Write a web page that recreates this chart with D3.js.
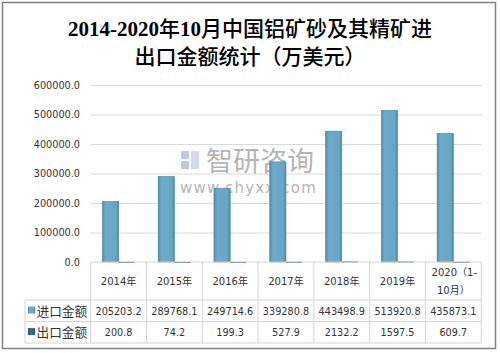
<!DOCTYPE html>
<html>
<head>
<meta charset="utf-8">
<script src="https://cdn.jsdelivr.net/npm/d3@7"></script>
<style>
  body { margin: 0; background: #fff; }
  svg { display: block; }
</style>
</head>
<body>
<svg id="chart" width="500" height="353"></svg>
<script>
// Data
const years = ["2014年", "2015年", "2016年", "2017年", "2018年", "2019年", "2020（1-10月）"];
const importValues = [205203.2, 289768.1, 249714.6, 339280.8, 443498.9, 513920.8, 435873.1];
const exportValues = [200.8, 74.2, 199.3, 527.9, 2132.2, 1597.5, 609.7];
const importLabels = ["205203.2", "289768.1", "249714.6", "339280.8", "443498.9", "513920.8", "435873.1"];
const exportLabels = ["200.8", "74.2", "199.3", "527.9", "2132.2", "1597.5", "609.7"];
const yTicks = [0, 100000, 200000, 300000, 400000, 500000, 600000];
const seriesNames = ["进口金额", "出口金额"];

const svg = d3.select("#chart");
const plotLeft = 90.7, plotRight = 481.2, plotTop = 85, plotBottom = 262;
const rowY = [262, 300, 321.5, 343];
const labelLeft = 25;

const x = d3.scaleBand().domain(years).range([plotLeft, plotRight]);
const y = d3.scaleLinear().domain([0, 600000]).range([plotBottom, plotTop]);

// outer border
svg.append("rect")
    .attr("x", 2.5).attr("y", 2.5)
    .attr("width", 493).attr("height", 346)
    .attr("fill", "none")
    .attr("stroke", "#808080")
    .attr("stroke-width", 1.5);

// title: serif bold digits, lighter CJK
const titleLines = [
    [["2014-2020", 1], ["年", 0], ["10", 1], ["月中国铝矿砂及其精矿进", 0]],
    [["出口金额统计（万美元）", 0]]
];
titleLines.forEach((parts, li) => {
    const t = svg.append("text")
        .attr("x", 250).attr("y", 36 + li * 28)
        .attr("text-anchor", "middle")
        .attr("fill", "#000")
        .style("font-size", "21px");
    parts.forEach(([s, isNum]) => {
        t.append("tspan")
            .style("font-family", isNum ? "'Liberation Serif', serif" : "'Noto Sans CJK SC', sans-serif")
            .style("font-weight", isNum ? "bold" : "500")
            .text(s);
    });
});

// gradients
const defs = svg.append("defs");
const g1 = defs.append("linearGradient").attr("id", "gImp").attr("x1", 0).attr("x2", 1).attr("y1", 0).attr("y2", 0);
g1.append("stop").attr("offset", "0%").attr("stop-color", "#4f8eac");
g1.append("stop").attr("offset", "20%").attr("stop-color", "#6cabc9");
g1.append("stop").attr("offset", "85%").attr("stop-color", "#67a6c4");
g1.append("stop").attr("offset", "100%").attr("stop-color", "#4c86a2");
const g2 = defs.append("linearGradient").attr("id", "gExp").attr("x1", 0).attr("x2", 1).attr("y1", 0).attr("y2", 0);
g2.append("stop").attr("offset", "0%").attr("stop-color", "#2c5a73");
g2.append("stop").attr("offset", "50%").attr("stop-color", "#3d6f8b");
g2.append("stop").attr("offset", "100%").attr("stop-color", "#2c5a73");

// grid lines
svg.append("g")
    .attr("class", "grid")
    .attr("transform", `translate(${plotLeft},0)`)
    .call(d3.axisLeft(y).tickValues(yTicks.slice(1)).tickSize(-(plotRight - plotLeft)).tickFormat(""))
    .call(g => g.select(".domain").remove())
    .call(g => g.selectAll("line").attr("stroke", "#d9d9d9"));

// y labels
svg.append("g")
    .selectAll("text")
    .data(yTicks)
    .join("text")
    .attr("x", 80)
    .attr("y", d => y(d) + 3.5)
    .attr("text-anchor", "end")
    .style("font-family", "'DejaVu Sans', sans-serif")
    .style("font-size", "9.7px")
    .attr("fill", "#333")
    .text(d => d.toFixed(1));

// watermark
const wm = svg.append("g").attr("opacity", 0.55);
wm.append("rect").attr("x", 181).attr("y", 151).attr("width", 8).attr("height", 8).attr("fill", "#8a9cc4");
wm.append("rect").attr("x", 181).attr("y", 161).attr("width", 8).attr("height", 8).attr("fill", "#8a9cc4");
wm.append("rect").attr("x", 191).attr("y", 151).attr("width", 8).attr("height", 18).attr("fill", "#b0bcd8");
wm.append("text")
    .attr("x", 206).attr("y", 171)
    .style("font-family", "'Noto Sans CJK SC', sans-serif")
    .style("font-size", "27px")
    .attr("fill", "#777")
    .text("智研咨询");
wm.append("text")
    .attr("x", 180).attr("y", 193)
    .style("font-family", "'DejaVu Sans', sans-serif")
    .style("font-size", "15px")
    .style("letter-spacing", "1.2px")
    .attr("fill", "#777")
    .text("www.chyxx.com");

// bars
const barW = 16.2;
svg.append("g")
    .selectAll("rect")
    .data(importValues)
    .join("rect")
    .attr("x", (d, i) => x(years[i]) + x.bandwidth() / 2 - barW)
    .attr("y", d => y(d))
    .attr("width", barW)
    .attr("height", d => plotBottom - y(d))
    .attr("fill", "url(#gImp)")
    .attr("stroke", "#4a8099")
    .attr("stroke-width", 0.6);

svg.append("g")
    .selectAll("rect")
    .data(exportValues)
    .join("rect")
    .attr("x", (d, i) => x(years[i]) + x.bandwidth() / 2)
    .attr("y", d => y(d))
    .attr("width", barW)
    .attr("height", d => Math.max(plotBottom - y(d), 1))
    .attr("fill", "url(#gExp)");

// data table
const tbl = svg.append("g").attr("stroke", "#d4d4d4").attr("stroke-width", 1);
tbl.append("line").attr("x1", plotLeft).attr("x2", plotRight).attr("y1", rowY[0]).attr("y2", rowY[0]);
[1, 2, 3].forEach(r => {
    tbl.append("line").attr("x1", labelLeft).attr("x2", plotRight).attr("y1", rowY[r]).attr("y2", rowY[r]);
});
years.forEach(yr => {
    tbl.append("line").attr("x1", x(yr)).attr("x2", x(yr)).attr("y1", rowY[0]).attr("y2", rowY[3]);
});
tbl.append("line").attr("x1", plotRight).attr("x2", plotRight).attr("y1", rowY[0]).attr("y2", rowY[3]);
tbl.append("line").attr("x1", labelLeft).attr("x2", labelLeft).attr("y1", rowY[1]).attr("y2", rowY[3]);

const cellFont = "'DejaVu Sans', sans-serif";
const cjkFont = "'DejaVu Sans', 'Noto Sans CJK SC', sans-serif";

// header
svg.append("g")
    .selectAll("text")
    .data(years)
    .join("text")
    .attr("text-anchor", "middle")
    .style("font-family", cjkFont)
    .style("font-size", "10px")
    .attr("fill", "#333")
    .each(function(d) {
        const t = d3.select(this);
        const cx = x(d) + x.bandwidth() / 2;
        if (d.length > 6) {
            t.append("tspan").attr("x", cx + 1).attr("y", 276).text("2020（1-");
            t.append("tspan").attr("x", cx).attr("y", 294).text("10月）");
        } else {
            t.append("tspan").attr("x", cx).attr("y", 285).text(d);
        }
    });

// rows
[importLabels, exportLabels].forEach((labels, r) => {
    const cy = (rowY[r + 1] + rowY[r + 2]) / 2 + 3.8;
    svg.append("g")
        .selectAll("text")
        .data(labels)
        .join("text")
        .attr("x", (d, i) => x(years[i]) + x.bandwidth() / 2)
        .attr("y", cy)
        .attr("text-anchor", "middle")
        .style("font-family", cellFont)
        .style("font-size", "9.7px")
        .attr("fill", "#333")
        .text(d => d);
    svg.append("rect")
        .attr("x", 28).attr("y", cy - 8)
        .attr("width", 7).attr("height", 7)
        .attr("fill", r === 0 ? "url(#gImp)" : "url(#gExp)");
    svg.append("text")
        .attr("x", 36.5).attr("y", cy + 1)
        .style("font-family", "'Noto Sans CJK SC', sans-serif")
        .style("font-size", "12.7px")
        .attr("fill", "#333")
        .text(seriesNames[r]);
});
</script>
</body>
</html>
